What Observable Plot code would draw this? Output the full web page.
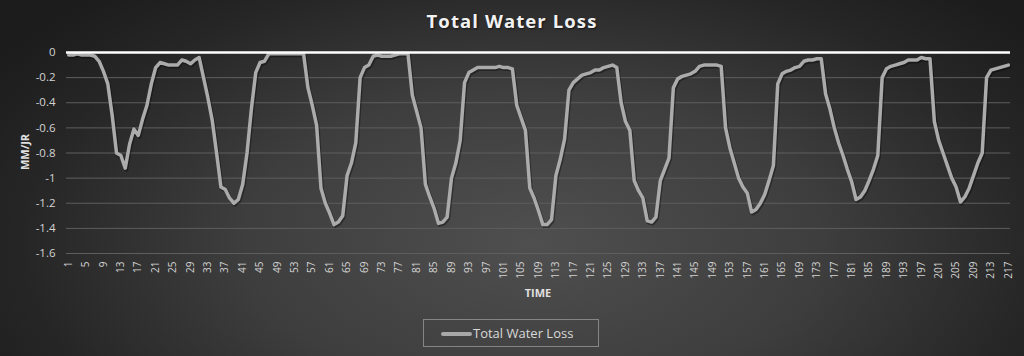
<!DOCTYPE html>
<html>
<head>
<meta charset="utf-8">
<script src="https://cdn.jsdelivr.net/npm/d3@7"></script>
<script src="https://cdn.jsdelivr.net/npm/@observablehq/plot@0.6"></script>
<style>
  html, body { margin: 0; padding: 0; background: #222; }
  #chart {
    position: relative; width: 1024px; height: 356px; overflow: hidden;
    background: radial-gradient(ellipse 62% 95% at 52% 68%, #4f4f4f 0%, #3e3e3e 45%, #262626 80%, #1c1c1c 100%);
    font-family: "Open Sans", "Liberation Sans", sans-serif;
  }
  #chart svg { position: absolute; left: 0; top: 0; }
  .title { position: absolute; left: 0; top: 8px; width: 1024px; text-align: center;
    color: #f2f2f2; font-weight: bold; font-size: 18.5px; letter-spacing: 1.1px;
    text-shadow: 1px 1px 2px rgba(0,0,0,0.6); }
  .ylab { position: absolute; left: 24px; top: 152px; transform: translate(-50%, -50%) rotate(-90deg);
    color: #e0e0e0; font-weight: bold; font-size: 11px; white-space: nowrap; }
  .xlab { position: absolute; left: 538px; top: 285px; transform: translateX(-50%);
    color: #e0e0e0; font-weight: bold; font-size: 11px; }
  .legend { position: absolute; left: 423px; top: 319px; width: 176px; height: 28px; box-sizing: border-box;
    border: 1px solid #858585; color: #d9d9d9; font-size: 13px; }
  .legend .swatch { position: absolute; left: 17px; top: 12px; width: 31px; height: 4px; background: #a8a8a8; border-radius: 2px; }
  .legend .txt { position: absolute; left: 49px; top: 4px; white-space: nowrap; }
</style>
</head>
<body>
<div id="chart">
  <div class="title">Total Water Loss</div>
  <div class="ylab">MM/JR</div>
  <div class="xlab">TIME</div>
  <div class="legend"><div class="swatch"></div><div class="txt">Total Water Loss</div></div>
</div>
<script>
// Total water loss (MM/JR) per time step 1..217
const loss = [
  -0.02, -0.02, -0.01, -0.02, -0.02, -0.02, -0.03, -0.07, -0.15, -0.25,
  -0.50, -0.80, -0.82, -0.92, -0.73, -0.61, -0.66, -0.53, -0.42, -0.25,
  -0.12, -0.08, -0.09, -0.10, -0.10, -0.10, -0.06, -0.07, -0.09, -0.06,
  -0.04, -0.20, -0.36, -0.54, -0.80, -1.07, -1.09, -1.16, -1.20, -1.17,
  -1.05, -0.80, -0.45, -0.16, -0.08, -0.07, -0.01, -0.01, -0.01, -0.01,
  -0.01, -0.01, -0.01, -0.01, -0.01, -0.28, -0.42, -0.58, -1.08, -1.20,
  -1.28, -1.37, -1.35, -1.30, -0.98, -0.88, -0.72, -0.20, -0.12, -0.10,
  -0.03, -0.02, -0.03, -0.03, -0.03, -0.02, -0.01, -0.01, -0.01, -0.34,
  -0.47, -0.60, -1.05, -1.15, -1.24, -1.36, -1.35, -1.31, -1.00, -0.88,
  -0.70, -0.24, -0.16, -0.14, -0.12, -0.12, -0.12, -0.12, -0.12, -0.11,
  -0.12, -0.12, -0.13, -0.42, -0.52, -0.62, -1.08, -1.16, -1.26, -1.37,
  -1.37, -1.33, -0.98, -0.85, -0.69, -0.30, -0.24, -0.21, -0.18, -0.17,
  -0.16, -0.14, -0.14, -0.12, -0.11, -0.10, -0.12, -0.40, -0.55, -0.62,
  -1.02, -1.10, -1.16, -1.34, -1.35, -1.31, -1.02, -0.93, -0.84, -0.28,
  -0.21, -0.19, -0.18, -0.17, -0.15, -0.11, -0.10, -0.10, -0.10, -0.10,
  -0.11, -0.60, -0.76, -0.88, -1.00, -1.07, -1.12, -1.27, -1.25, -1.20,
  -1.13, -1.02, -0.90, -0.25, -0.17, -0.15, -0.14, -0.12, -0.11, -0.07,
  -0.06, -0.06, -0.05, -0.05, -0.33, -0.45, -0.60, -0.72, -0.82, -0.93,
  -1.03, -1.17, -1.15, -1.10, -1.02, -0.93, -0.82, -0.20, -0.13, -0.11,
  -0.10, -0.09, -0.08, -0.06, -0.06, -0.06, -0.04, -0.05, -0.05, -0.55,
  -0.70, -0.80, -0.90, -1.00, -1.07, -1.19, -1.15, -1.08, -0.98, -0.88,
  -0.80, -0.20, -0.14, -0.13, -0.12, -0.11, -0.10
];
const xTickLabels = [1, 5, 9, 13, 17, 21, 25, 29, 33, 37, 41, 45, 49, 53, 57, 61, 65, 69, 73, 77,
  81, 85, 89, 93, 97, 101, 105, 109, 113, 117, 121, 125, 129, 133, 137, 141, 145, 149, 153, 157,
  161, 165, 169, 173, 177, 181, 185, 189, 193, 197, 201, 205, 209, 213, 217];
const yTickLabels = [0, -0.2, -0.4, -0.6, -0.8, -1, -1.2, -1.4, -1.6];
const seriesName = "Total Water Loss";

const data = loss.map((v, i) => ({time: i + 1, loss: v}));

const chart = Plot.plot({
  width: 1024,
  height: 356,
  marginTop: 52,
  marginBottom: 103,
  marginLeft: 66,
  marginRight: 14,
  style: {background: "transparent", fontFamily: "'Open Sans', 'Liberation Sans', sans-serif"},
  x: {type: "linear", domain: [0.5, loss.length + 0.5]},
  y: {domain: [-1.6, 0]},
  marks: [
    Plot.gridY(yTickLabels.filter(d => d !== 0), {stroke: "#5e5e5e", strokeOpacity: 1, strokeWidth: 1}),
    Plot.axisY(yTickLabels, {tickSize: 0, tickPadding: 11, fontSize: 11.5, fill: "#d4d4d4",
      tickFormat: d => String(+d.toFixed(1)), label: null}),
    Plot.axisX(xTickLabels, {tickSize: 0, tickPadding: 8, tickRotate: -90, fontSize: 10, fill: "#d4d4d4",
      tickFormat: d => String(d), label: null}),
    Plot.line(data, {x: "time", y: "loss", stroke: "#000", strokeOpacity: 0.35, strokeWidth: 4,
      dx: 1, dy: 1.5, strokeLinejoin: "round"}),
    Plot.line(data, {x: "time", y: "loss", stroke: "#ababab", strokeWidth: 3.5,
      strokeLinejoin: "round", strokeLinecap: "round", title: () => seriesName}),
    Plot.ruleY([0], {stroke: "#ffffff", strokeWidth: 2.5})
  ]
});
document.getElementById("chart").appendChild(chart);
</script>
</body>
</html>
